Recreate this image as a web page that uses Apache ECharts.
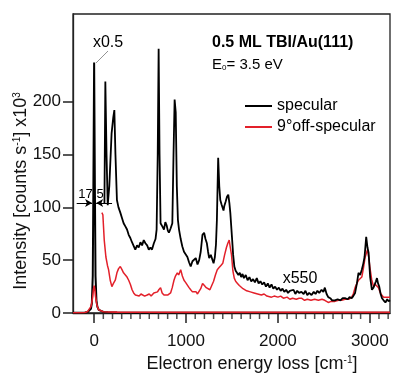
<!DOCTYPE html>
<html><head><meta charset="utf-8">
<script src="https://cdn.jsdelivr.net/npm/echarts@6/dist/echarts.min.js"></script>
<style>html,body{margin:0;padding:0;background:#fff}#c{width:393px;height:375px}</style>
</head><body><div id="c"></div>
<script>
// ---- data (x in cm^-1, intensity in counts s^-1 x10^3) ----
var elasticX = [-230,-150,-100,-70,-50,-35,-25,-15,-8,0,8,15,25,35,50,70,100,150,250,500,1000,1500,2000,2500,3000,3220];
var specElastic = [0.2,0.3,0.5,1,2,4,9,35,120,237,120,35,12,6,3,1.5,1,0.6,0.4,0.3,0.3,0.3,0.3,0.3,0.3,0.3];
var offElastic = [0.2,0.3,0.5,1.5,3,6,10,16,22,26,22,16,10,6,3,2,1.2,1,0.8,0.7,0.6,0.6,0.6,0.6,0.6,0.6];

var specX = [112,122,135,148,165,190,208,220,232,248,265,285,303,321,340,358,376,394,412,430,448,467,485,504,522,540,558,577,595,613,630,650,668,680,692,702,712,723,742,760,775,789,802,814,832,851,864,876,888,900,912,924,942,960,978,997,1015,1033,1051,1070,1088,1106,1125,1143,1160,1179,1197,1212,1227,1240,1252,1270,1289,1300,1314,1326,1336,1350,1362,1373,1386,1398,1408,1416,1430,1446,1460,1472,1482,1500,1513,1526,1540,1555,1570,1585,1600,1615,1630,1650,1670,1690,1710,1730,1750,1770,1790,1810,1830,1850,1870,1890,1910,1930,1950,1970,1990,2010,2030,2050,2070,2090,2110,2130,2150,2170,2190,2210,2230,2256,2280,2300,2320,2340,2366,2390,2410,2430,2450,2475,2495,2511,2530,2548,2570,2590,2621,2650,2680,2705,2730,2760,2780,2803,2820,2840,2860,2877,2895,2913,2930,2943,2961,2975,2987,3004,3023,3040,3056,3067,3078,3090,3103,3118,3133,3150,3170,3190,3205,3220];
var specVals = [104,219,150,102,120,170,185,192,150,107,100,95,90,85,82,79,74,71,67,66,60,64,62,67,64,69,66,64,60,62,60,66,70,79,150,250,150,85,82,79,86,83,78,76,80,85,150,202,190,120,88,79,70,63,58,57,53,48,44,49,50,52,46,50,58,74,76,70,66,58,52,55,50,47,53,65,88,147,120,107,103,104,97,101,105,110,112,104,95,72,55,44,40,41,36,38,34,37,33,36,31,34,30,32,29,33,28,30,27,29,25,28,24,27,23,25,22,24,21,23,20,22,19,21,20,22,18,21,19,20,18,21,17,19,17,20,18,21,19,22,20,24,18,15,14,12,12,13,12,14,14,13,15,14,16,19,28,38,36,41,47,53,72,62,57,34,22,24,25,30,33,28,25,18,14,12,10,13,11,12];

var offX = [84,95,110,128,145,157,175,193,210,230,248,266,285,303,320,340,358,376,395,413,430,449,470,490,510,530,550,577,600,620,650,670,690,704,723,740,760,780,800,832,850,869,885,905,920,942,960,978,995,1015,1033,1051,1070,1088,1110,1125,1143,1160,1180,1200,1220,1240,1260,1280,1300,1320,1340,1360,1380,1400,1420,1440,1455,1470,1482,1495,1510,1525,1540,1560,1580,1600,1620,1640,1660,1680,1700,1720,1740,1760,1780,1800,1820,1850,1880,1900,1930,1960,2000,2030,2060,2100,2130,2160,2200,2230,2256,2290,2320,2360,2400,2440,2480,2510,2548,2580,2620,2660,2694,2730,2770,2803,2820,2840,2860,2877,2895,2913,2930,2950,2975,2990,3000,3020,3041,3060,3078,3095,3110,3130,3150,3170,3195,3220];
var offVals = [95,93,69,53,45,41,31,25,28,31,38,42,44,41,38,36,34,31,27,22,19,17,18,16,18,17,16,17,18,16,19,18,20,22,24,19,17,18,17,19,24,31,35,38,36,41,35,31,29,28,24,22,20,19,20,18,19,23,28,26,24,23,22,26,30,36,41,43,45,47,55,62,66,69,62,55,40,33,30,28,26,25,23,24,21,22,20,21,19,20,18,19,17,18,16,17,15,16,15,16,14,15,13,14,13,14,14,12,13,12,13,12,13,12,10,11,11,12,12,13,13,15,18,24,28,31,32,34,42,53,60,52,44,32,25,27,28,24,20,17,15,14,15,15];

var xMajor = [0,1000,2000,3000];
var xMinor = [100,200,300,400,500,600,700,800,900,1100,1200,1300,1400,1500,1600,1700,1800,1900,2100,2200,2300,2400,2500,2600,2700,2800,2900,3100,3200];
var yTicks = [0,50,100,150,200];

function pairs(xs, ys){ return xs.map(function(x,i){return [x, ys[i]];}); }

var FONT = '"Liberation Sans", Arial, Helvetica, sans-serif';
var chart = echarts.init(document.getElementById('c'), null, {renderer:'canvas'});
chart.setOption({
  animation:false,
  textStyle:{fontFamily:FONT},
  grid:{left:73,right:3,top:14,bottom:62,show:true,borderColor:'#222',borderWidth:1.3,backgroundColor:'transparent'},
  legend:{
    orient:'vertical', left:240, top:93, itemWidth:27, itemHeight:2, itemGap:5, icon:'rect',
    data:['specular','9°off-specular'],
    textStyle:{fontSize:16,color:'#000',fontFamily:FONT}
  },
  xAxis:{
    type:'value', min:-230, max:3220,
    axisLine:{show:true,onZero:false,lineStyle:{color:'#222',width:1.3}},
    axisTick:{show:true,customValues:xMajor,length:10,lineStyle:{color:'#222',width:1.5}},
    axisLabel:{customValues:xMajor,fontSize:17,color:'#111',margin:20,fontFamily:FONT,
      formatter:function(v){return String(v);}},
    splitLine:{show:false}
  },
  yAxis:{
    type:'value', min:0, max:283,
    axisLine:{show:true,onZero:false,lineStyle:{color:'#222',width:1.3}},
    axisTick:{show:true,customValues:yTicks,length:10,lineStyle:{color:'#222',width:1.5}},
    axisLabel:{customValues:yTicks,fontSize:17,color:'#111',margin:12,fontFamily:FONT},
    splitLine:{show:false}
  },
  series:[
    {name:'specular x0.5',type:'line',data:pairs(elasticX,specElastic),symbol:'none',
     lineStyle:{color:'#000',width:2},itemStyle:{color:'#000'},z:2,
     markLine:{silent:true,symbol:['none','arrow'],symbolSize:[6,7],label:{show:false},
       lineStyle:{color:'#000',width:1,type:'solid'},
       data:[[{coord:[-190,104]},{coord:[-22,104]}],[{coord:[195,104]},{coord:[22,104]}]]}},
    {name:'9°off x1',type:'line',data:pairs(elasticX,offElastic),symbol:'none',
     lineStyle:{color:'#e3202a',width:1.6},itemStyle:{color:'#e3202a'},z:5},
    {name:'9°off-specular',type:'line',data:pairs(offX,offVals),symbol:'none',
     lineStyle:{color:'#e3202a',width:1.5},itemStyle:{color:'#e3202a'},z:3},
    {name:'specular',type:'line',data:pairs(specX,specVals),symbol:'none',
     lineStyle:{color:'#000',width:1.8},itemStyle:{color:'#000'},z:4},
    {name:'minor ticks',type:'scatter',silent:true,clip:false,z:10,
     data:xMinor.map(function(v){return [v,0];}),
     symbol:'rect',symbolSize:[1.5,6],symbolOffset:[0,3],
     itemStyle:{color:'#222'}}
  ],
  graphic:[
    {type:'text',left:212,top:35,style:{text:'0.5 ML TBI/Au(111)',font:'bold 16px '+FONT,fill:'#000'}},
    {type:'text',left:212,top:57,style:{text:'E{s|0}= 3.5 eV',font:'15px '+FONT,fill:'#000',
      rich:{s:{fontSize:8,verticalAlign:'bottom',padding:[6,0,0,0],fontFamily:FONT}}}},
    {type:'text',x:108,y:43,style:{text:'x0.5',font:'16px '+FONT,fill:'#000',align:'center',verticalAlign:'middle'}},
    {type:'line',shape:{x1:108,y1:51,x2:96,y2:63},style:{stroke:'#777',lineWidth:0.8}},
    {type:'text',x:300,y:279,style:{text:'x550',font:'16px '+FONT,fill:'#000',align:'center',verticalAlign:'middle'}},
    {type:'text',x:91,y:194,style:{text:'17.5',font:'13px '+FONT,fill:'#000',align:'center',verticalAlign:'middle'}},
    {type:'text',x:21,y:191,rotation:Math.PI/2,style:{text:'Intensity [counts s{u|-1}] x10{u|3}',font:'18px '+FONT,fill:'#111',
      align:'center',verticalAlign:'middle',rich:{u:{fontSize:10,verticalAlign:'top',padding:[0,0,8,0],fontFamily:FONT}}}},
    {type:'text',x:252,y:364,style:{text:'Electron energy loss [cm{u|-1}]',font:'18px '+FONT,fill:'#111',
      align:'center',verticalAlign:'middle',rich:{u:{fontSize:10,verticalAlign:'top',padding:[0,0,8,0],fontFamily:FONT}}}}
  ]
});
</script></body></html>
